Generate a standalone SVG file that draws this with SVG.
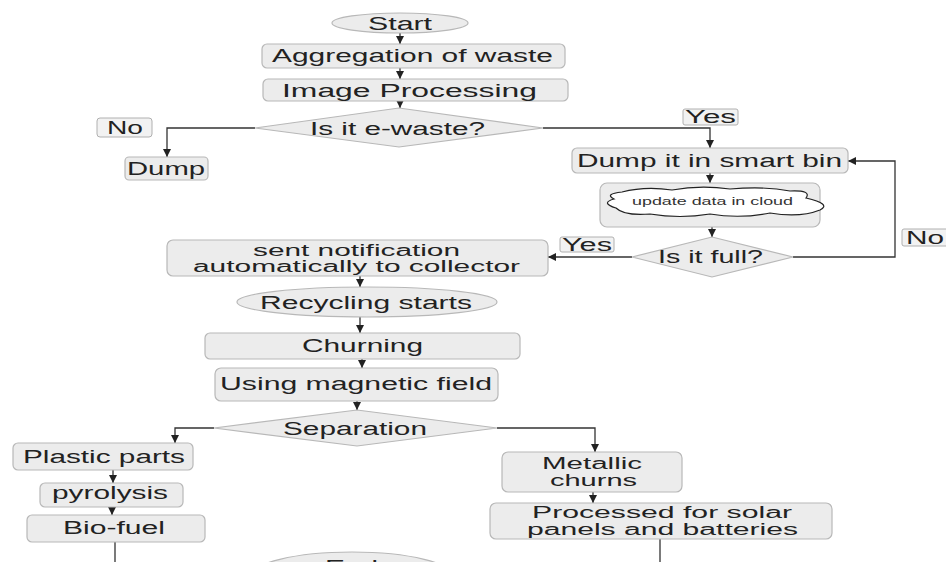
<svg xmlns="http://www.w3.org/2000/svg" width="946" height="562" viewBox="0 0 946 562">
<defs>
<marker id="ah" viewBox="0 0 10 10" refX="10" refY="5" markerWidth="8" markerHeight="8" markerUnits="userSpaceOnUse" orient="auto">
<path d="M0,0 L10,5 L0,10 z" fill="#222"/>
</marker>
<style>
.bx{fill:#ececec;stroke:#b8b8b8;stroke-width:1.2}
.lb{fill:#f2f2f2;stroke:#b0b0b0;stroke-width:1}
.t{font-family:"Liberation Sans",Arial,sans-serif;font-size:18px;fill:#222}
.t2{font-family:"Liberation Sans",Arial,sans-serif;font-size:16px;fill:#222}
.s{font-family:"Liberation Sans",Arial,sans-serif;font-size:11px;fill:#333}
.c{fill:none;stroke:#333;stroke-width:1.3}
.ca{fill:none;stroke:#333;stroke-width:1.3;marker-end:url(#ah)}
</style>
</defs>
<rect width="946" height="562" fill="#fff"/>

<g id="connectors">
<line class="ca" x1="400" y1="33" x2="400" y2="44"/>
<line class="ca" x1="400" y1="68" x2="400" y2="79"/>
<line class="ca" x1="400" y1="101" x2="400" y2="108"/>
<polyline class="ca" points="255,128 167,128 167,157"/>
<polyline class="ca" points="543,128 710,128 710,148"/>
<line class="ca" x1="710" y1="173" x2="710" y2="183"/>
<line class="ca" x1="712" y1="227" x2="712" y2="237"/>
<line class="ca" x1="632" y1="257" x2="548" y2="257"/>
<polyline class="ca" points="793,257 895,257 895,161 848,161"/>
<line class="ca" x1="360" y1="276" x2="360" y2="287"/>
<line class="ca" x1="360" y1="317" x2="360" y2="333"/>
<line class="ca" x1="362" y1="359" x2="362" y2="368"/>
<line class="ca" x1="357" y1="401" x2="357" y2="410"/>
<polyline class="ca" points="214,428 175,428 175,443"/>
<polyline class="ca" points="497,428 595,428 595,452"/>
<line class="ca" x1="113" y1="470" x2="113" y2="483"/>
<line class="ca" x1="112" y1="507" x2="112" y2="515"/>
<line class="c" x1="115" y1="542" x2="115" y2="562"/>
<line class="ca" x1="593" y1="492" x2="593" y2="503"/>
<line class="c" x1="660" y1="539" x2="660" y2="562"/>
</g>

<g id="start">
<ellipse class="bx" cx="400" cy="23" rx="68" ry="10"/>
<text class="t" x="368" y="30" textLength="64" lengthAdjust="spacingAndGlyphs">Start</text>
</g>
<g id="aggregation">
<rect class="bx" x="262" y="44" width="303" height="24" rx="5"/>
<text class="t" x="272" y="62" textLength="281" lengthAdjust="spacingAndGlyphs">Aggregation of waste</text>
</g>
<g id="image-processing">
<rect class="bx" x="263" y="79" width="305" height="22" rx="5"/>
<text class="t" x="282" y="97" textLength="255" lengthAdjust="spacingAndGlyphs">Image Processing</text>
</g>
<g id="is-ewaste">
<polygon class="bx" points="255,128 399,108 543,128 399,147"/>
<text class="t" x="310" y="135" textLength="175" lengthAdjust="spacingAndGlyphs">Is it e-waste?</text>
</g>
<g id="label-no-1">
<rect class="lb" x="97" y="118" width="55" height="19" rx="3"/>
<text class="t" x="107" y="134" textLength="36" lengthAdjust="spacingAndGlyphs">No</text>
</g>
<g id="dump">
<rect class="bx" x="125" y="157" width="83" height="23" rx="4"/>
<text class="t" x="127" y="175" textLength="78" lengthAdjust="spacingAndGlyphs">Dump</text>
</g>
<g id="label-yes-1">
<rect class="lb" x="683" y="109" width="55" height="16" rx="2"/>
<text class="t" x="685" y="123" textLength="51" lengthAdjust="spacingAndGlyphs">Yes</text>
</g>
<g id="smart-bin">
<rect class="bx" x="572" y="148" width="276" height="25" rx="5"/>
<text class="t" x="577" y="167" textLength="265" lengthAdjust="spacingAndGlyphs">Dump it in smart bin</text>
</g>
<g id="cloud">
<rect class="bx" x="600" y="183" width="220" height="44" rx="7"/>
<path d="M622,192 Q645,186 672,190 Q700,185 730,189 Q765,186 790,191 Q812,190 806,198 Q832,204 820,210 Q800,218 770,213 Q740,219 710,214 Q680,219 650,214 Q624,216 616,208 Q600,203 614,199 Q604,194 622,192 Z" fill="#fff" stroke="#222" stroke-width="1.2"/>
<text class="s" x="632" y="205" textLength="161" lengthAdjust="spacingAndGlyphs">update data in cloud</text>
</g>
<g id="is-full">
<polygon class="bx" points="632,257 712,237 793,257 712,277"/>
<text class="t" x="658" y="263" textLength="105" lengthAdjust="spacingAndGlyphs">Is it full?</text>
</g>
<g id="label-yes-2">
<rect class="lb" x="560" y="237" width="54" height="15" rx="2"/>
<text class="t" x="562" y="251" textLength="50" lengthAdjust="spacingAndGlyphs">Yes</text>
</g>
<g id="label-no-2">
<rect class="lb" x="902" y="229" width="50" height="17" rx="2"/>
<text class="t" x="906" y="244" textLength="38" lengthAdjust="spacingAndGlyphs">No</text>
</g>
<g id="notification">
<rect class="bx" x="167" y="240" width="381" height="36" rx="6"/>
<text class="t2" x="253" y="256" textLength="207" lengthAdjust="spacingAndGlyphs">sent notification</text>
<text class="t2" x="193" y="272" textLength="327" lengthAdjust="spacingAndGlyphs">automatically to collector</text>
</g>
<g id="recycling">
<ellipse class="bx" cx="367" cy="302" rx="130" ry="15"/>
<text class="t" x="260" y="309" textLength="212" lengthAdjust="spacingAndGlyphs">Recycling starts</text>
</g>
<g id="churning">
<rect class="bx" x="205" y="333" width="315" height="26" rx="5"/>
<text class="t" x="302" y="352" textLength="121" lengthAdjust="spacingAndGlyphs">Churning</text>
</g>
<g id="magnetic">
<rect class="bx" x="215" y="368" width="283" height="33" rx="6"/>
<text class="t" x="220" y="390" textLength="272" lengthAdjust="spacingAndGlyphs">Using magnetic field</text>
</g>
<g id="separation">
<polygon class="bx" points="214,428 357,410 497,428 357,446"/>
<text class="t" x="283" y="435" textLength="144" lengthAdjust="spacingAndGlyphs">Separation</text>
</g>
<g id="plastic">
<rect class="bx" x="13" y="443" width="180" height="27" rx="5"/>
<text class="t" x="23" y="463" textLength="162" lengthAdjust="spacingAndGlyphs">Plastic parts</text>
</g>
<g id="pyrolysis">
<rect class="bx" x="40" y="483" width="143" height="24" rx="5"/>
<text class="t" x="52" y="499" textLength="116" lengthAdjust="spacingAndGlyphs">pyrolysis</text>
</g>
<g id="biofuel">
<rect class="bx" x="27" y="515" width="178" height="27" rx="5"/>
<text class="t" x="63" y="534" textLength="102" lengthAdjust="spacingAndGlyphs">Bio-fuel</text>
</g>
<g id="metallic">
<rect class="bx" x="502" y="452" width="180" height="40" rx="6"/>
<text class="t2" x="542" y="469" textLength="100" lengthAdjust="spacingAndGlyphs">Metallic</text>
<text class="t2" x="550" y="486" textLength="87" lengthAdjust="spacingAndGlyphs">churns</text>
</g>
<g id="processed">
<rect class="bx" x="490" y="503" width="342" height="36" rx="6"/>
<text class="t2" x="532" y="518" textLength="260" lengthAdjust="spacingAndGlyphs">Processed for solar</text>
<text class="t2" x="527" y="535" textLength="271" lengthAdjust="spacingAndGlyphs">panels and batteries</text>
</g>
<g id="end">
<ellipse class="bx" cx="352" cy="577" rx="102" ry="25"/>
<text class="t" x="325" y="573" textLength="53" lengthAdjust="spacingAndGlyphs">End</text>
</g>
</svg>
